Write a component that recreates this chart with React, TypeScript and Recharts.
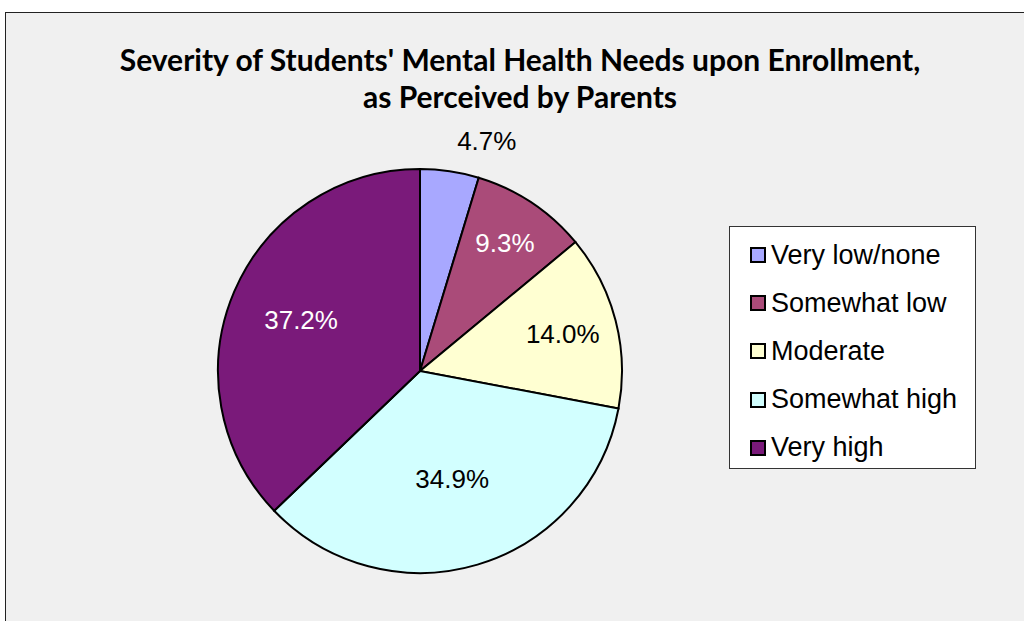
import React from "react";
import { Cell, Legend, Pie, PieChart } from "recharts";

const CATEGORIES = ["Very low/none", "Somewhat low", "Moderate", "Somewhat high", "Very high"];
const VALUES = [4.7, 9.3, 14.0, 34.9, 37.2];
const COLORS = ["#a8a8ff", "#aa4b79", "#ffffd2", "#d2ffff", "#7a1a7a"];
const LABEL_COLORS = ["#000000", "#ffffff", "#000000", "#000000", "#ffffff"];
// how far out from the centre each label sits (fraction of radius)
const LABEL_RADIUS = [1.15, 0.76, 0.73, 0.56, 0.64];

const chartData = CATEGORIES.map((name, i) => ({ name, value: VALUES[i] }));

const RADIAN = Math.PI / 180;

const renderLabel = (props: any) => {
    const { cx, cy, midAngle, outerRadius, index, value } = props;
    const r = outerRadius * LABEL_RADIUS[index];
    const x = cx + r * Math.cos(-midAngle * RADIAN);
    const y = cy + r * Math.sin(-midAngle * RADIAN);
    const outside = LABEL_RADIUS[index] > 1;
    return (
        <text
            x={outside ? x + 3 : x}
            y={y}
            fill={LABEL_COLORS[index]}
            textAnchor={outside ? "start" : "middle"}
            dominantBaseline="central"
            fontFamily="'Liberation Sans', Arial, sans-serif"
            fontSize={26}
        >
            {value.toFixed(1)}%
        </text>
    );
};

const LegendBox = () => (
    <div
        style={{
            width: 247,
            height: 243,
            background: "#ffffff",
            border: "1px solid #333",
            boxSizing: "border-box",
            paddingTop: 4,
            paddingLeft: 20,
            fontFamily: "'Liberation Sans', Arial, sans-serif",
            fontSize: 27,
            color: "#000",
        }}
    >
        {CATEGORIES.map((name, i) => (
            <div key={name} style={{ display: "flex", alignItems: "center", height: 48.2 }}>
                <div
                    style={{
                        width: 12,
                        height: 12,
                        background: COLORS[i],
                        border: "2px solid #000",
                        marginRight: 5,
                        flexShrink: 0,
                    }}
                />
                <span>{name}</span>
            </div>
        ))}
    </div>
);

export default function App() {
    return (
        <div
            style={{
                position: "fixed",
                left: 5,
                top: 12,
                width: 1040,
                height: 640,
                background: "#f0f0f0",
                border: "1px solid #222",
                boxSizing: "border-box",
            }}
        >
            <div
                style={{
                    position: "absolute",
                    left: 0,
                    top: 28,
                    width: 1028,
                    textAlign: "center",
                    fontFamily: "Lato, sans-serif",
                    fontWeight: 700,
                    fontSize: 30,
                    lineHeight: "37px",
                    color: "#000",
                }}
            >
                Severity of Students' Mental Health Needs upon Enrollment,
                <br />
                as Perceived by Parents
            </div>
            <div style={{ position: "absolute", left: 0, top: 0 }}>
                <PieChart width={1018} height={608}>
                    <Pie
                        data={chartData}
                        dataKey="value"
                        nameKey="name"
                        cx={409}
                        cy={353}
                        outerRadius={202}
                        startAngle={90}
                        endAngle={-270}
                        stroke="#000"
                        strokeWidth={2}
                        label={renderLabel}
                        labelLine={false}
                        isAnimationActive={false}
                    >
                        {chartData.map((d, i) => (
                            <Cell key={d.name} fill={COLORS[i]} />
                        ))}
                    </Pie>
                    <Legend
                        content={() => <LegendBox />}
                        wrapperStyle={{ position: "absolute", left: 723, top: 213, width: 247 }}
                    />
                </PieChart>
            </div>
        </div>
    );
}
